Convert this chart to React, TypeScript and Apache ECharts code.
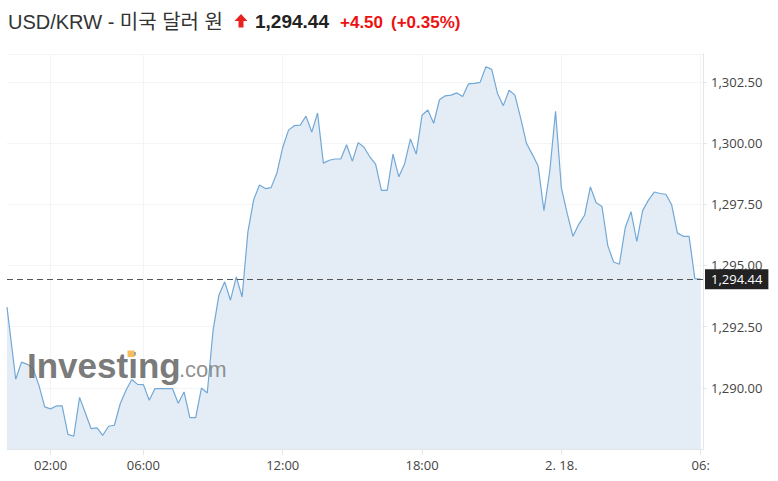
import React, { useEffect, useRef } from 'react';
import * as echarts from 'echarts';

// ---- title texts ----
const TITLE = 'USD/KRW - 미국 달러 원';
const LAST_PRICE_TEXT = '1,294.44';
const CHANGE_TEXT = '+4.50';
const CHANGE_PCT_TEXT = '(+0.35%)';
const LAST_VALUE = 1294.44;

// ---- time base (hours since 00:00 of day 1) ----
const FIRST_TIME_H = 0.125; // first tick of the session
const REGULAR_START_H = 0.5; // 00:30, then every 15 minutes
const STEP_H = 0.25;

// ---- prices ----
const values: number[] = [
  1293.30,
  1290.35, 1291.05, 1290.96, 1290.79, 1290.10, 1289.22, 1289.14, 1289.26, 1289.26, 1288.10,
  1288.02, 1289.61, 1288.97, 1288.33, 1288.36, 1288.06, 1288.43, 1288.47, 1289.35, 1289.90,
  1290.34, 1290.14, 1290.13, 1289.49, 1289.97, 1289.97, 1289.97, 1289.97, 1289.37, 1289.83,
  1288.78, 1288.78, 1289.99, 1289.79, 1292.35, 1293.78, 1294.33, 1293.58, 1294.53, 1293.71,
  1296.37, 1297.69, 1298.29, 1298.14, 1298.18, 1298.78, 1299.82, 1300.53, 1300.71, 1300.73,
  1301.10, 1300.45, 1301.23, 1299.18, 1299.30, 1299.35, 1299.35, 1299.93, 1299.26, 1300.02,
  1299.83, 1299.44, 1299.14, 1298.07, 1298.07, 1299.55, 1298.62, 1299.16, 1300.17, 1299.55,
  1301.14, 1301.35, 1300.81, 1301.77, 1301.93, 1301.96, 1302.05, 1301.90, 1302.42, 1302.44,
  1302.48, 1303.12, 1303.01, 1302.03, 1301.53, 1302.16, 1301.96, 1301.01, 1299.98, 1299.54,
  1299.06, 1297.24, 1298.85, 1301.30, 1298.18, 1297.13, 1296.19, 1296.68, 1297.05, 1298.21,
  1297.56, 1297.41, 1295.81, 1295.14, 1295.05, 1296.54, 1297.20, 1295.98, 1297.24, 1297.67,
  1298.00, 1297.94, 1297.91, 1297.48, 1296.32, 1296.19, 1296.19, 1294.46, 1294.44,
];

// ---- axes ----
const xTickHours = [2, 6, 12, 18, 24, 30];
const xTickLabels = ['02:00', '06:00', '12:00', '18:00', '2. 18.', '06:'];
const X_MAX = 30.1;
const Y_MIN = 1287.5;
const Y_MAX = 1303.64;
const Y_STEP = 2.5;

const times = values.map((_, i) => (i === 0 ? FIRST_TIME_H : REGULAR_START_H + (i - 1) * STEP_H));
const seriesData = values.map((v, i) => [times[i], v]);

const fmtPrice = (v: number) =>
  v.toLocaleString('en-US', { minimumFractionDigits: 2, maximumFractionDigits: 2 });

const AXIS_FONT = '"Open Sans", "Liberation Sans", Arial, sans-serif';

export default function App() {
  const ref = useRef<HTMLDivElement>(null);
  useEffect(() => {
    if (!ref.current) return;
    const chart = echarts.init(ref.current, null, { renderer: 'svg' });
    const option: any = {
      animation: false,
      backgroundColor: '#fff',
      grid: { left: 7, right: 75, top: 54, bottom: 32 },
      xAxis: {
        type: 'value',
        min: FIRST_TIME_H,
        max: X_MAX,
        axisLine: { show: true, lineStyle: { color: '#e2e6ea' } },
        axisTick: { show: true, customValues: xTickHours, length: 6, lineStyle: { color: '#e2e6ea' } },
        axisLabel: {
          customValues: xTickHours,
          formatter: (v: number) => {
            const idx = xTickHours.indexOf(Math.round(v));
            return idx >= 0 ? xTickLabels[idx] : '';
          },
          color: '#444',
          fontSize: 13,
          fontFamily: AXIS_FONT,
          margin: 9,
        },
        splitLine: { show: true, lineStyle: { color: '#f3f4f6' } },
      },
      yAxis: {
        type: 'value',
        position: 'right',
        min: Y_MIN,
        max: Y_MAX,
        interval: Y_STEP,
        axisLine: { show: true, lineStyle: { color: '#e2e6ea' } },
        axisTick: { show: true, length: 4, lineStyle: { color: '#e2e6ea' } },
        axisLabel: {
          showMinLabel: false,
          showMaxLabel: false,
          formatter: (v: number) => fmtPrice(v),
          color: '#444',
          fontSize: 13,
          fontFamily: AXIS_FONT,
          margin: 8,
        },
        splitLine: { show: true, lineStyle: { color: '#f3f4f6' } },
      },
      series: [
        {
          type: 'line',
          data: seriesData,
          symbol: 'none',
          smooth: false,
          lineStyle: { color: '#72a8d6', width: 1.2 },
          areaStyle: { color: '#e4edf5', opacity: 1 },
          markLine: {
            silent: true,
            symbol: ['none', 'none'],
            lineStyle: { type: [6, 4], color: '#555', width: 1 },
            label: {
              show: true,
              position: 'end',
              distance: 2,
              formatter: () => fmtPrice(LAST_VALUE),
              backgroundColor: '#222',
              color: '#fff',
              fontSize: 13,
              fontFamily: AXIS_FONT,
              padding: [4, 6, 3, 6],
            },
            data: [{ yAxis: LAST_VALUE }],
          },
        },
      ],
      graphic: [
        {
          type: 'text',
          x: 8,
          y: 21.5,
          style: {
            text: TITLE,
            fontSize: 20,
            fontFamily: '"Liberation Sans", Arial, "Noto Sans CJK KR", sans-serif',
            fill: '#333',
            verticalAlign: 'middle',
          },
        },
        {
          type: 'polygon',
          shape: {
            points: [
              [241, 14], [247.5, 21], [243.5, 21], [243.5, 27.5],
              [238.5, 27.5], [238.5, 21], [234.5, 21],
            ],
          },
          style: { fill: '#e8231f' },
        },
        {
          type: 'text',
          x: 255,
          y: 21.7,
          style: {
            text: LAST_PRICE_TEXT,
            fontSize: 19,
            fontWeight: 'bold',
            fontFamily: '"Liberation Sans", Arial, sans-serif',
            fill: '#222',
            verticalAlign: 'middle',
          },
        },
        {
          type: 'text',
          x: 340,
          y: 22.4,
          style: {
            text: CHANGE_TEXT,
            fontSize: 17,
            fontWeight: 'bold',
            fontFamily: '"Liberation Sans", Arial, sans-serif',
            fill: '#ee1111',
            verticalAlign: 'middle',
          },
        },
        {
          type: 'text',
          x: 391,
          y: 22.4,
          style: {
            text: CHANGE_PCT_TEXT,
            fontSize: 17,
            fontWeight: 'bold',
            fontFamily: '"Liberation Sans", Arial, sans-serif',
            fill: '#ee1111',
            verticalAlign: 'middle',
          },
        },
        {
          type: 'text',
          x: 27,
          y: 365,
          z: 50,
          style: {
            text: 'Investing',
            fontSize: 35,
            fontWeight: 'bold',
            fontFamily: '"Liberation Sans", Arial, sans-serif',
            fill: 'rgba(105,105,105,0.9)',
            verticalAlign: 'middle',
          },
        },
        {
          type: 'rect',
          z: 51,
          shape: { x: 127.5, y: 350.5, width: 7, height: 6.5 },
          style: { fill: '#f7bd5c' },
        },
        {
          type: 'text',
          x: 179,
          y: 369.4,
          z: 50,
          style: {
            text: '.com',
            fontSize: 22,
            fontFamily: '"Liberation Sans", Arial, sans-serif',
            fill: 'rgba(130,130,130,0.9)',
            verticalAlign: 'middle',
          },
        },
      ],
    };
    chart.setOption(option);
    return () => chart.dispose();
  }, []);
  return <div ref={ref} style={{ width: 778, height: 481, position: 'absolute', left: 0, top: 0 }} />;
}
